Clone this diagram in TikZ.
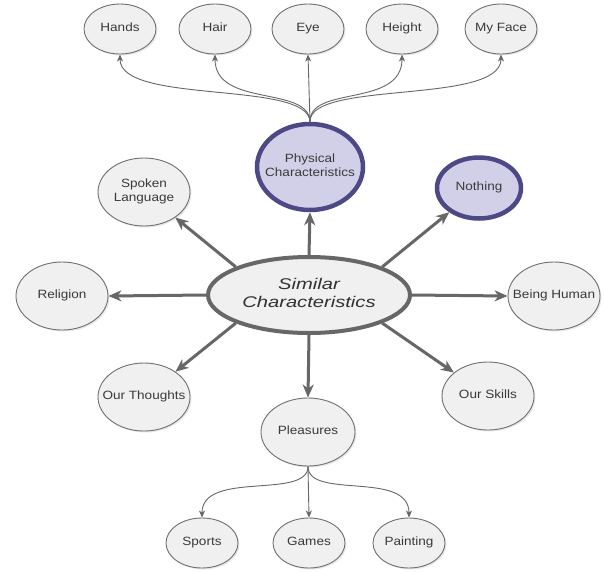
\documentclass[tikz,border=0pt]{standalone}
\usepackage{fontspec}
\setmainfont{Liberation Sans}[FakeStretch=1.13]
\newfontfamily\simfont{Liberation Sans}[FakeStretch=1.3]
\usetikzlibrary{shapes.geometric,arrows.meta,shadows}
\definecolor{leaffill}{HTML}{F0F0F0}
\definecolor{leafline}{HTML}{707070}
\definecolor{purpfill}{HTML}{D2D0E8}
\definecolor{purpline}{HTML}{4D4886}
\definecolor{arrowc}{HTML}{676767}
\definecolor{txt}{HTML}{3A3A3A}
\newcommand{\ctext}[1]{\makebox[0pt][c]{\begin{tabular}{@{}c@{}}#1\end{tabular}}}
\tikzset{
  base/.style={ellipse, inner sep=0pt, text=txt,
    font=\fontsize{12}{13.5}\selectfont,
    drop shadow={opacity=0.18, shadow xshift=1.5pt, shadow yshift=-1.5pt}},
  leaf/.style={base, draw=leafline, line width=0.9pt, fill=leaffill},
  small/.style={leaf, minimum width=72pt, minimum height=50pt},
  big/.style={leaf, minimum width=92pt, minimum height=68pt},
  purp/.style={base, draw=purpline, line width=4.5pt, fill=purpfill},
  hub/.style={base, draw=arrowc, line width=4pt, fill=leaffill,
    minimum width=202pt, minimum height=76pt,
    font=\simfont\itshape\fontsize{15.5}{18}\selectfont, text=txt!85!black},
  thick/.style={draw=arrowc, line width=3pt,
    -{Stealth[length=13pt, width=11pt, inset=4pt]}},
  thin/.style={draw=arrowc, line width=0.9pt,
    -{Stealth[length=7pt, width=6pt, inset=2pt]}}
}
\begin{document}
\begin{tikzpicture}[x=1pt, y=-1pt]
\fill[white] (0,0) rectangle (605,571);
\useasboundingbox (0,0) rectangle (605,571);

% hub
\node[hub] (sim) at (309,295) {\ctext{Similar\\ Characteristics}};

% purple nodes
\node[purp, minimum width=106pt, minimum height=86pt] (phys) at (310,167) {\ctext{Physical\\ Characteristics}};
\node[purp, minimum width=84pt, minimum height=61pt] (nothing) at (479,188) {\ctext{Nothing}};

% top row
\node[small] (hands) at (120,29) {\ctext{Hands}};
\node[small] (hair) at (215,29) {\ctext{Hair}};
\node[small] (eye) at (308,29) {\ctext{Eye}};
\node[small] (height) at (402,29) {\ctext{Height}};
\node[small] (face) at (501,29) {\ctext{My Face}};

% ring
\node[big] (spoken) at (144,192) {\ctext{Spoken\\ Language}};
\node[big] (religion) at (62,296) {\ctext{Religion}};
\node[big] (thoughts) at (144,397) {\ctext{Our Thoughts}};
\node[big] (human) at (554,296) {\ctext{Being Human}};
\node[big] (skills) at (488,396) {\ctext{Our Skills}};
\node[big, minimum width=94pt] (pleasures) at (308,432) {\ctext{Pleasures}};

% bottom row
\node[small] (sports) at (202,543) {\ctext{Sports}};
\node[small] (games) at (309,543) {\ctext{Games}};
\node[small] (painting) at (409,543) {\ctext{Painting}};

% thick connectors
\draw[thick] (sim.north) -- (phys.south);
\draw[thick] (sim.21) -- (nothing);
\draw[thick] (sim.159) -- (spoken);
\draw[thick] (sim.west) -- (religion.east);
\draw[thick] (sim.east) -- (human.west);
\draw[thick] (sim.201) -- (thoughts);
\draw[thick] (sim.-21) -- (skills);
\draw[thick] (sim.south) -- (pleasures.north);

% thin curved connectors (top)
\draw[thin] (phys.north) .. controls (309,80) and (120,105) .. (hands.south);
\draw[thin] (phys.north) .. controls (309,85) and (215,108) .. (hair.south);
\draw[thin] (phys.north) -- (eye.south);
\draw[thin] (phys.north) .. controls (309,85) and (402,108) .. (height.south);
\draw[thin] (phys.north) .. controls (309,80) and (501,105) .. (face.south);

% thin curved connectors (bottom)
\draw[thin] (pleasures.south) .. controls (308,500) and (202,470) .. (sports.north);
\draw[thin] (pleasures.south) -- (games.north);
\draw[thin] (pleasures.south) .. controls (308,500) and (409,470) .. (painting.north);
\end{tikzpicture}
\end{document}
